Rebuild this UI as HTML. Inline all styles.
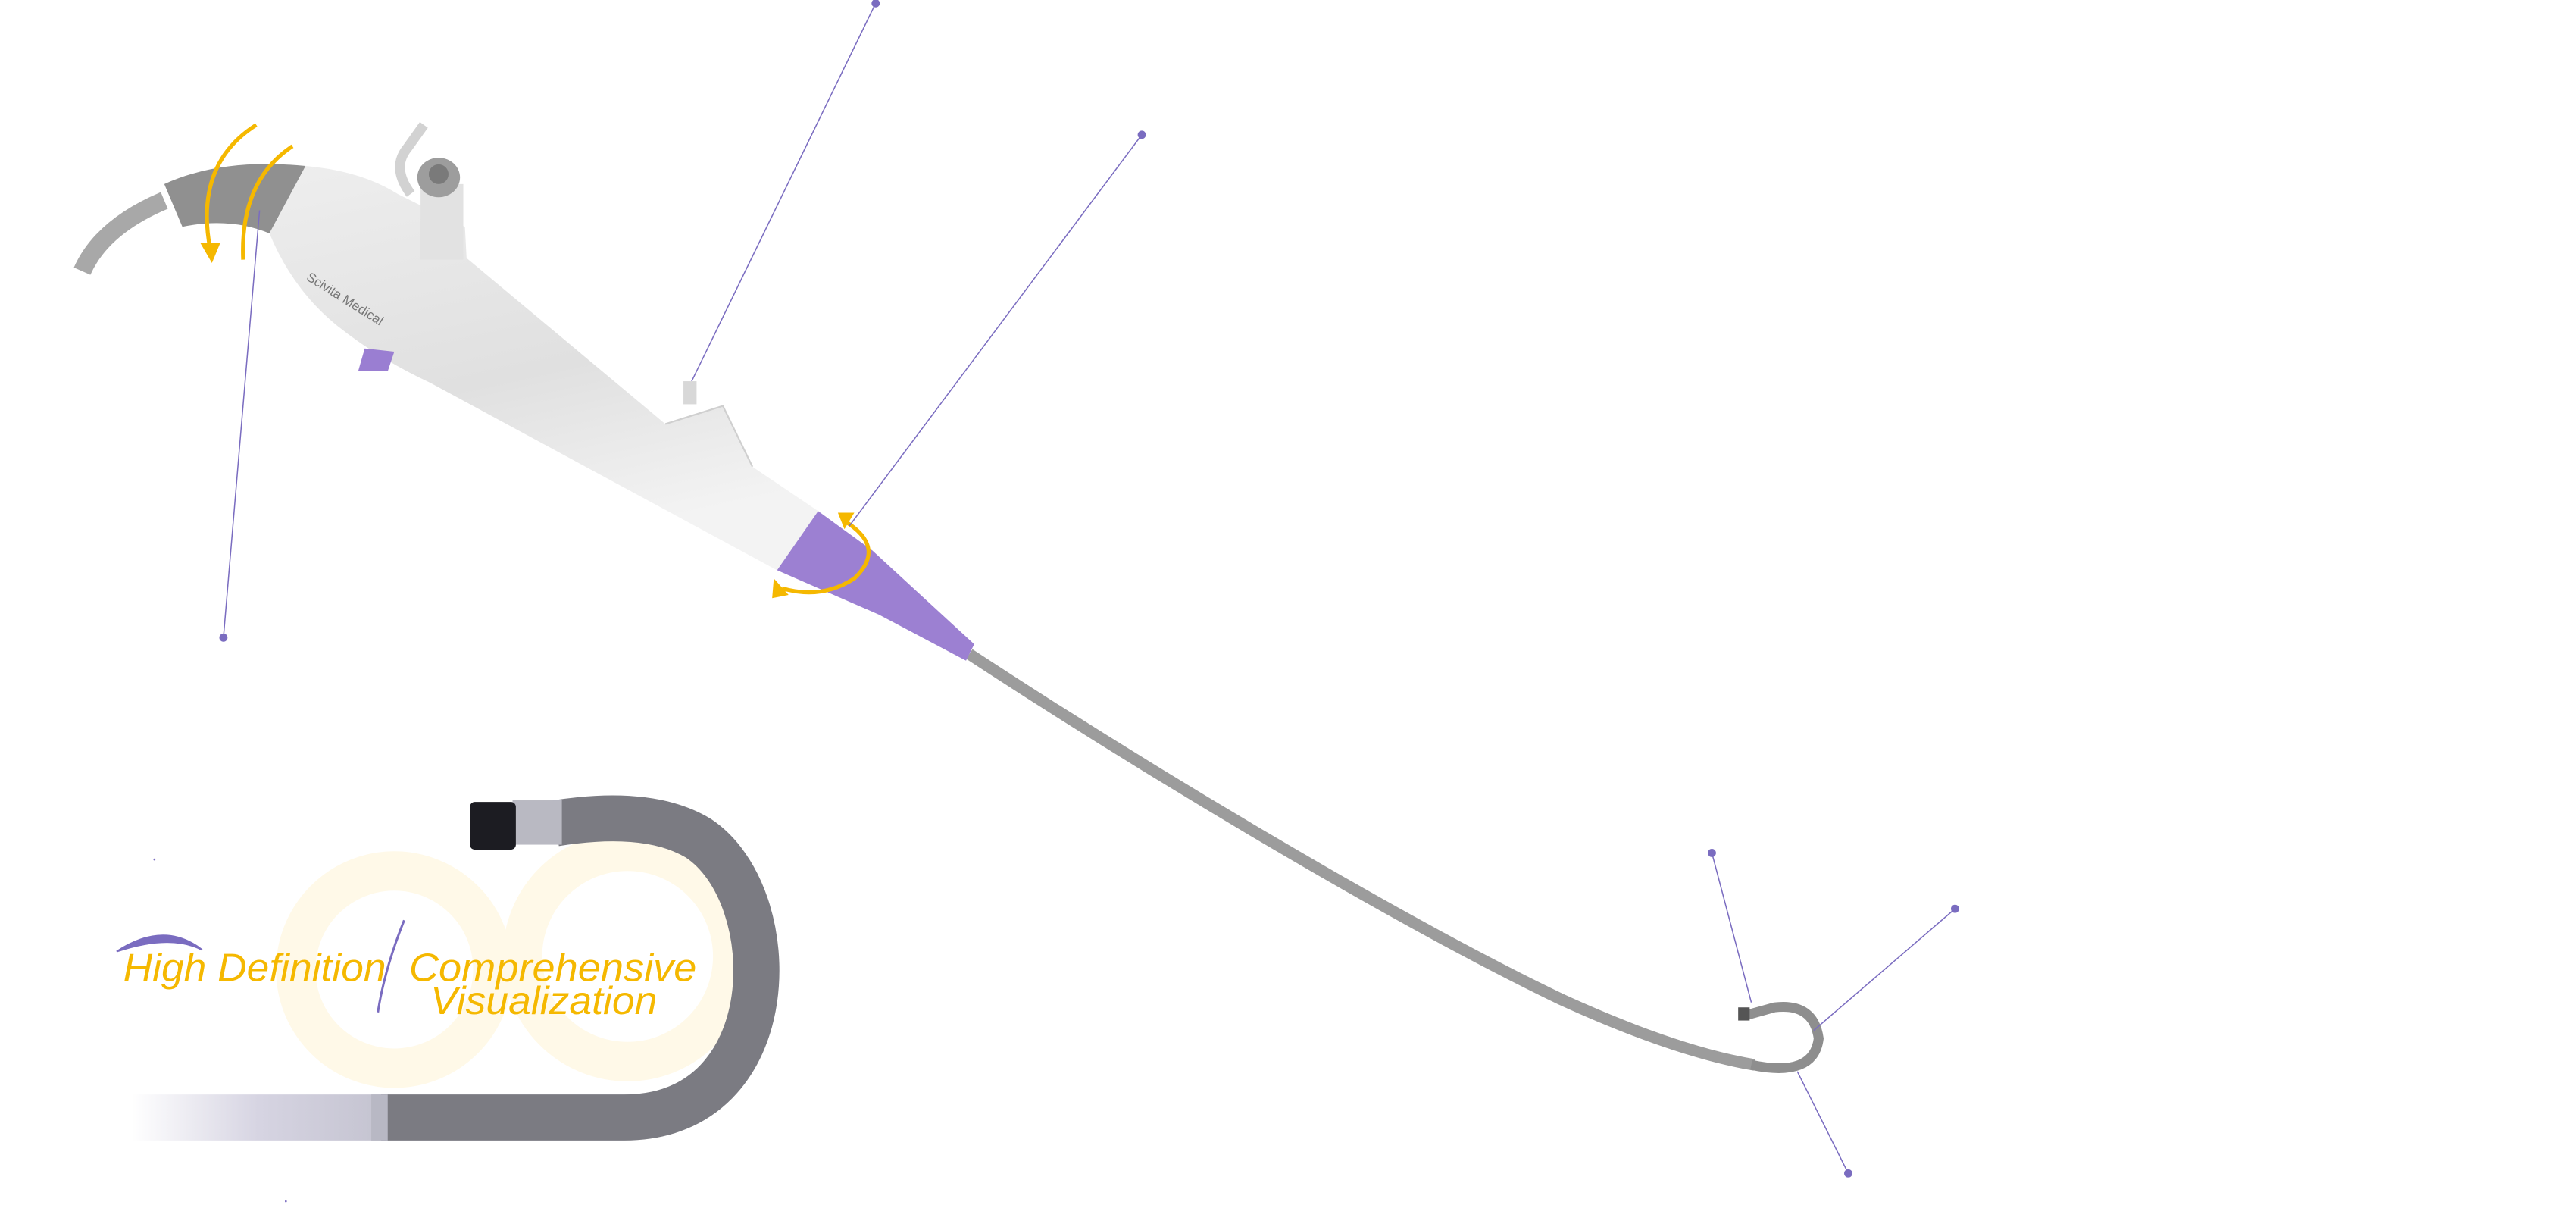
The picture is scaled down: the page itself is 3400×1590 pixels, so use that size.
<!DOCTYPE html>
<html><head><meta charset="utf-8"><style>html,body{margin:0;padding:0;background:#fff}svg{display:block}</style></head>
<body>
<svg width="3400" height="1590" viewBox="0 0 3400 1590" xmlns="http://www.w3.org/2000/svg">
<defs>
<linearGradient id="body" x1="0" y1="0" x2="0.3" y2="1">
<stop offset="0" stop-color="#eeeeee"/><stop offset="0.6" stop-color="#e0e0e0"/><stop offset="1" stop-color="#f3f3f3"/></linearGradient>
<linearGradient id="fade" gradientUnits="userSpaceOnUse" x1="80" y1="0" x2="235" y2="0">
<stop offset="0" stop-color="#ffffff"/><stop offset="0.5" stop-color="#d6d4e2"/><stop offset="1" stop-color="#c4c3d0"/></linearGradient>
</defs>
<g transform="scale(2.1684)">
<!-- faint yellow infinity -->
<circle cx="240" cy="590" r="60" fill="none" stroke="#fff9e8" stroke-width="24"/>
<circle cx="382" cy="582" r="64" fill="none" stroke="#fff9e8" stroke-width="24"/>

<!-- bottom photo tube -->
<rect x="80" y="666" width="155" height="28" fill="url(#fade)"/>
<path d="M232,680 L380,680 C478,680 478,545 425,510 Q395,492 338,501" stroke="#7b7b82" stroke-width="28" fill="none"/>
<rect x="226" y="666" width="10" height="28" fill="#b8b8c4"/>
<rect x="312" y="487" width="30" height="27" fill="#b9b9c2"/>
<rect x="286" y="488" width="28" height="29" rx="3" fill="#1c1c22"/>

<!-- text -->
<path d="M71,579 Q100,560 123,578 Q104,568 71,579Z" fill="#7a6cc0" stroke="#7a6cc0" stroke-width="1"/>
<path d="M246,560 Q234,590 230,616" stroke="#7a6cc0" stroke-width="1.4" fill="none"/>
<g font-family="'Liberation Sans',sans-serif" font-style="italic" fill="#f5b800" font-size="24">
<text x="75" y="597" textLength="160" lengthAdjust="spacingAndGlyphs">High Definition</text>
<text x="249" y="597" textLength="175" lengthAdjust="spacingAndGlyphs">Comprehensive</text>
<text x="262" y="617" textLength="138" lengthAdjust="spacingAndGlyphs">Visualization</text>
</g>

<!-- main tube -->
<path d="M590,398 C700,470 850,560 950,608 Q1020,640 1068,648" stroke="#9c9c9c" stroke-width="7" fill="none"/>
<path d="M1066,648 Q1104,656 1107,632 Q1104,610 1080,613 L1062,618" stroke="#8e8e8e" stroke-width="6" fill="none"/>
<rect x="1058" y="613" width="7" height="8" fill="#555"/>

<!-- cable & hood -->
<path d="M50,165 Q62,138 100,122" stroke="#a8a8a8" stroke-width="11" fill="none"/>
<path d="M100,112 Q135,96 186,101 L164,142 Q140,132 111,138 Z" fill="#909090"/>
<!-- body -->
<path d="M164,142 L186,101 Q220,104 242,118 L256,125 L283,138 L284,157 L405,258 L440,247 L458,284 L498,311 L473,347 L262,233 Q230,218 205,198 Q178,176 164,142 Z" fill="url(#body)"/>
<path d="M405,258 L440,247 L458,284" stroke="#cfcfcf" stroke-width="1" fill="none"/>
<!-- port -->
<rect x="256" y="112" width="26" height="46" fill="#e2e2e2"/>
<path d="M250,118 Q238,102 248,90 L258,76" stroke="#d2d2d2" stroke-width="6" fill="none"/>
<ellipse cx="267" cy="108" rx="13" ry="12" fill="#9d9d9d"/>
<circle cx="267" cy="106" r="6" fill="#7a7a7a"/>
<rect x="416" y="232" width="8" height="14" fill="#d8d8d8"/>
<!-- lever -->
<path d="M222,212 L240,214 L236,226 L218,226 Z" fill="#9a7ed2"/>
<text x="186" y="170" font-family="'Liberation Sans',sans-serif" font-size="8" fill="#777" transform="rotate(32 186 170)">Scivita Medical</text>
<!-- purple collar -->
<path d="M498,311 L531,335 L593,392 L588,402 L535,374 L473,347 Z" fill="#9c80d2"/>

<!-- yellow arrows -->
<g stroke="#f5b800" stroke-width="2.4" fill="none">
<path d="M156,76 Q118,100 128,152"/>
<path d="M178,89 Q146,110 148,158"/>
<path d="M514,317 Q540,333 520,352 Q500,365 476,358"/>
</g>
<g fill="#f5b800">
<path d="M122,148 L134,148 L129,160 Z"/>
<path d="M510,312 L520,312 L514,322 Z"/>
<path d="M471,352 L480,362 L470,364 Z"/>
</g>

<!-- callout lines -->
<g stroke="#7a6cc0" stroke-width="0.7" fill="none">
<line x1="533" y1="2" x2="421" y2="232"/>
<line x1="695" y1="82" x2="517" y2="320"/>
<line x1="136" y1="388" x2="158" y2="128"/>
<line x1="1042" y1="519" x2="1066" y2="610"/>
<line x1="1190" y1="553" x2="1104" y2="627"/>
<line x1="1125" y1="714" x2="1094" y2="652"/>
</g>
<g fill="#7a6cc0">
<circle cx="533" cy="2" r="2.5"/>
<circle cx="695" cy="82" r="2.5"/>
<circle cx="136" cy="388" r="2.5"/>
<circle cx="1042" cy="519" r="2.5"/>
<circle cx="1190" cy="553" r="2.5"/>
<circle cx="1125" cy="714" r="2.5"/>
<circle cx="94" cy="523" r="0.6"/>
<circle cx="174" cy="731" r="0.6"/>
</g>
</g>
</svg>
</body></html>
